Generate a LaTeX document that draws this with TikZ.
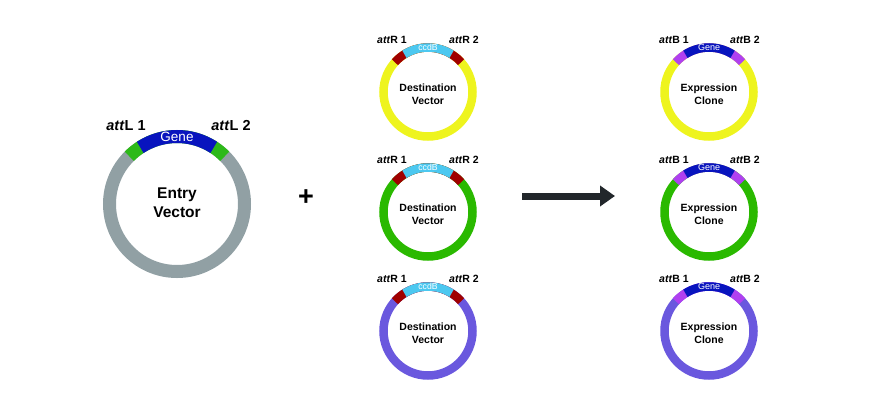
\documentclass[tikz,border=0pt]{standalone}
\usepackage{fontspec}
\setmainfont{Liberation Sans}
\usetikzlibrary{arrows.meta}
\definecolor{ringgray}{RGB}{145,160,164}
\definecolor{geneblue}{RGB}{8,20,190}
\definecolor{attlgreen}{RGB}{45,185,25}
\definecolor{ringyellow}{RGB}{238,244,30}
\definecolor{ringgreen}{RGB}{42,185,0}
\definecolor{ringpurple}{RGB}{106,88,222}
\definecolor{ccdbcyan}{RGB}{76,200,240}
\definecolor{attrred}{RGB}{160,0,0}
\definecolor{attbviolet}{RGB}{176,64,240}
\definecolor{arrowdark}{RGB}{34,39,43}
\tikzset{
  bigname/.style={align=center,font=\fontsize{15.5}{19}\selectfont\bfseries},
  smallname/.style={align=center,font=\fontsize{10.5}{13}\selectfont\bfseries},
  biglabel/.style={font=\fontsize{14.5}{16}\selectfont\bfseries},
  smalllabel/.style={font=\fontsize{10.5}{12}\selectfont\bfseries},
  bandtext/.style={text=white,inner sep=0pt}
}
\begin{document}
\begin{tikzpicture}[x=1pt,y=1pt]
\useasboundingbox (0,0) rectangle (870,-407);
% entry vector
\draw [line width=13pt, ringgray] (177,-204) circle (67.5);
\draw [line width=13pt, attlgreen] (177,-204) ++(45:67.5) arc (45:135:67.5);
\draw [line width=13pt, geneblue] (177,-204) ++(57:67.5) arc (57:123:67.5);
\node [bigname] (entry) at (177,-203) {Entry\\Vector};
\node [bandtext, font=\fontsize{13.5}{15}\selectfont] (entrygene) at (177,-136.5) {Gene};
\node [biglabel] (attl1) at (126,-126) {\textit{att}L 1};
\node [biglabel] (attl2) at (231,-126) {\textit{att}L 2};
% plus
\node [font=\fontsize{27}{30}\selectfont\bfseries] (plus) at (306,-198) {+};
% destination vectors
\draw [line width=8.5pt, ringyellow] (428,-92) circle (44.5);
\draw [line width=8.5pt, attrred] (428,-92) ++(42:44.5) arc (42:138:44.5);
\draw [line width=8.5pt, ccdbcyan] (428,-92) ++(58:44.5) arc (58:122:44.5);
\node [smallname] (dest1) at (428,-94) {Destination\\Vector};
\node [bandtext, font=\fontsize{8.7}{10}\selectfont] (ccdb1) at (428,-47.5) {ccdB};
\node [smalllabel] (attr11) at (392,-40) {\textit{att}R 1};
\node [smalllabel] (attr12) at (464,-40) {\textit{att}R 2};
\draw [line width=8.5pt, ringgreen] (428,-212) circle (44.5);
\draw [line width=8.5pt, attrred] (428,-212) ++(42:44.5) arc (42:138:44.5);
\draw [line width=8.5pt, ccdbcyan] (428,-212) ++(58:44.5) arc (58:122:44.5);
\node [smallname] (dest2) at (428,-214) {Destination\\Vector};
\node [bandtext, font=\fontsize{8.7}{10}\selectfont] (ccdb2) at (428,-167.5) {ccdB};
\node [smalllabel] (attr21) at (392,-160) {\textit{att}R 1};
\node [smalllabel] (attr22) at (464,-160) {\textit{att}R 2};
\draw [line width=8.5pt, ringpurple] (428,-331) circle (44.5);
\draw [line width=8.5pt, attrred] (428,-331) ++(42:44.5) arc (42:138:44.5);
\draw [line width=8.5pt, ccdbcyan] (428,-331) ++(58:44.5) arc (58:122:44.5);
\node [smallname] (dest3) at (428,-333) {Destination\\Vector};
\node [bandtext, font=\fontsize{8.7}{10}\selectfont] (ccdb3) at (428,-286.5) {ccdB};
\node [smalllabel] (attr31) at (392,-279) {\textit{att}R 1};
\node [smalllabel] (attr32) at (464,-279) {\textit{att}R 2};
% arrow
\coordinate (arrowtail) at (522,-196);
\coordinate (arrowtip) at (615,-196);
\draw [line width=7pt, arrowdark, -{Triangle[length=15pt,width=20pt]}] (arrowtail) -- (arrowtip);
% expression clones
\draw [line width=8.5pt, ringyellow] (709,-92) circle (44.5);
\draw [line width=8.5pt, attbviolet] (709,-92) ++(42:44.5) arc (42:138:44.5);
\draw [line width=8.5pt, geneblue] (709,-92) ++(58:44.5) arc (58:122:44.5);
\node [smallname] (expr1) at (709,-94) {Expression\\Clone};
\node [bandtext, font=\fontsize{9}{10}\selectfont] (gene1) at (709,-47.5) {Gene};
\node [smalllabel] (attb11) at (674,-40) {\textit{att}B 1};
\node [smalllabel] (attb12) at (745,-40) {\textit{att}B 2};
\draw [line width=8.5pt, ringgreen] (709,-212) circle (44.5);
\draw [line width=8.5pt, attbviolet] (709,-212) ++(42:44.5) arc (42:138:44.5);
\draw [line width=8.5pt, geneblue] (709,-212) ++(58:44.5) arc (58:122:44.5);
\node [smallname] (expr2) at (709,-214) {Expression\\Clone};
\node [bandtext, font=\fontsize{9}{10}\selectfont] (gene2) at (709,-167.5) {Gene};
\node [smalllabel] (attb21) at (674,-160) {\textit{att}B 1};
\node [smalllabel] (attb22) at (745,-160) {\textit{att}B 2};
\draw [line width=8.5pt, ringpurple] (709,-331) circle (44.5);
\draw [line width=8.5pt, attbviolet] (709,-331) ++(42:44.5) arc (42:138:44.5);
\draw [line width=8.5pt, geneblue] (709,-331) ++(58:44.5) arc (58:122:44.5);
\node [smallname] (expr3) at (709,-333) {Expression\\Clone};
\node [bandtext, font=\fontsize{9}{10}\selectfont] (gene3) at (709,-286.5) {Gene};
\node [smalllabel] (attb31) at (674,-279) {\textit{att}B 1};
\node [smalllabel] (attb32) at (745,-279) {\textit{att}B 2};
\end{tikzpicture}
\end{document}
